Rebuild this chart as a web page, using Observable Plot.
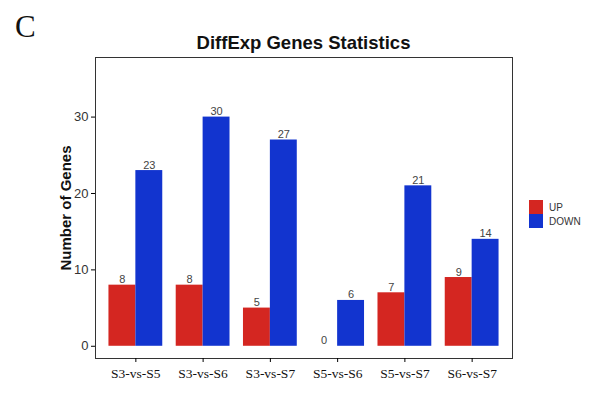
<!DOCTYPE html>
<html>
<head>
<meta charset="utf-8">
<script src="https://cdn.jsdelivr.net/npm/d3@7"></script>
<script src="https://cdn.jsdelivr.net/npm/@observablehq/plot@0.6"></script>
<style>
  body { margin: 0; background: #fff; }
  #wrap { position: relative; width: 599px; height: 394px; overflow: hidden; }
  #wrap svg { position: absolute; left: 0; top: 0; }
  .panel-letter { position: absolute; left: 15px; top: 11px; font-family: "Liberation Serif", serif; font-size: 31px; color: #111; line-height: 1; }
  .title { position: absolute; left: 95px; width: 417px; top: 32px; text-align: center; font-family: "Liberation Sans", Arial, sans-serif; font-weight: bold; font-size: 18.5px; color: #111; }
  .legend { position: absolute; left: 529px; top: 200px; font-family: "Liberation Sans", Arial, sans-serif; font-size: 10px; color: #333; }
  .legend .row { display: flex; align-items: center; height: 14px; }
  .legend .sw { width: 14px; height: 14px; margin-right: 6px; }
</style>
</head>
<body>
<div id="wrap">
  <div class="panel-letter">C</div>
  <div class="title">DiffExp Genes Statistics</div>
  <div class="legend" id="legend"></div>
</div>
<script>
const categories = ["S3-vs-S5", "S3-vs-S6", "S3-vs-S7", "S5-vs-S6", "S5-vs-S7", "S6-vs-S7"];
const upValues = [8, 8, 5, 0, 7, 9];
const downValues = [23, 30, 27, 6, 21, 14];
const types = ["UP", "DOWN"];
const colors = ["#d42621", "#1234cf"];
const yTicks = [0, 10, 20, 30];

const rows = [];
categories.forEach((c, i) => {
  rows.push({category: c, i, type: "UP", value: upValues[i]});
  rows.push({category: c, i, type: "DOWN", value: downValues[i]});
});
const half = 0.4;
const left = d => d.type === "UP" ? d.i - half : d.i;
const right = d => d.type === "UP" ? d.i : d.i + half;
const mid = d => d.type === "UP" ? d.i - half / 2 : d.i + half / 2;

const chart = Plot.plot({
  width: 599,
  height: 394,
  marginLeft: 95,
  marginRight: 87,
  marginTop: 57,
  marginBottom: 36,
  style: { background: "transparent" },
  x: { type: "linear", domain: [-0.6, categories.length - 0.4] },
  y: { domain: [-1.6, 37.8] },
  color: { domain: types, range: colors },
  marks: [
    Plot.rectY(rows, { x1: left, x2: right, y: "value", fill: "type" }),
    Plot.text(rows, { x: mid, y: "value", text: d => String(d.value), lineAnchor: "bottom", dy: -2, fontSize: 11, fill: "#444", fontFamily: "Liberation Sans, Arial, sans-serif" }),
    Plot.frame({ stroke: "#333", strokeWidth: 1 }),
    Plot.axisY({ ticks: yTicks, tickSize: 4, tickPadding: 3, fontSize: 13, label: null, fill: "#333", fontFamily: "Liberation Sans, Arial, sans-serif" }),
    Plot.axisX({ ticks: d3.range(categories.length), tickFormat: i => categories[i], tickSize: 4, tickPadding: 6, fontSize: 13.5, label: null, fill: "#111", fontFamily: "Liberation Serif, serif" }),
    Plot.text(["Number of Genes"], { frameAnchor: "left", textAnchor: "middle", lineAnchor: "middle", dx: -29, rotate: -90, fontWeight: "bold", fontSize: 15, fill: "#111", fontFamily: "Liberation Sans, Arial, sans-serif" })
  ]
});
document.getElementById("wrap").prepend(chart);

const legend = document.getElementById("legend");
types.forEach((t, k) => {
  const row = document.createElement("div");
  row.className = "row";
  const sw = document.createElement("div");
  sw.className = "sw";
  sw.style.background = colors[k];
  const lab = document.createElement("span");
  lab.textContent = t;
  row.append(sw, lab);
  legend.append(row);
});
</script>
</body>
</html>
